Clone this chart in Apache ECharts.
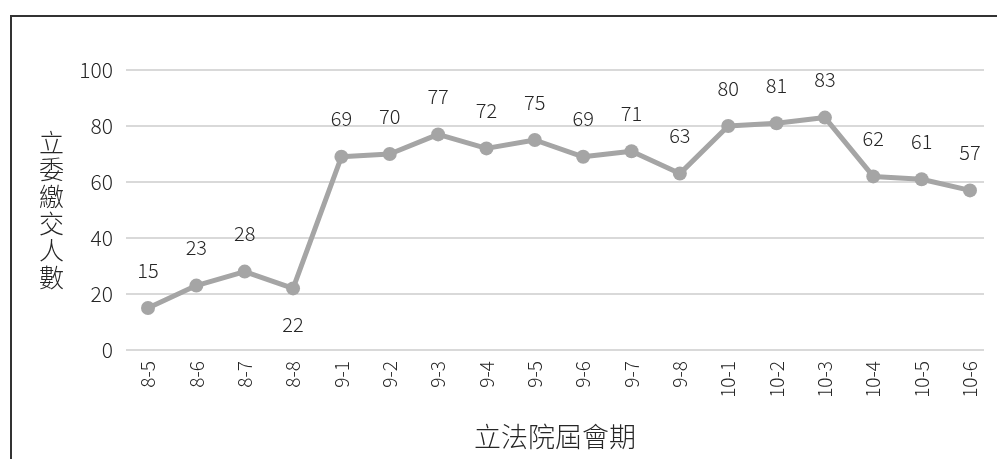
<!DOCTYPE html>
<html>
<head>
<meta charset="utf-8">
<script src="https://cdn.jsdelivr.net/npm/echarts@6/dist/echarts.min.js"></script>
<style>
	html, body { margin: 0; padding: 0; background: #fff; overflow: hidden; }
	#frame { position: absolute; left: 10px; top: 15px; width: 1100px; height: 600px; border: 2px solid #333; }
	#main { position: absolute; left: 0; top: 0; width: 997px; height: 459px; }
</style>
</head>
<body>
<div id="frame"></div>
<div id="main"></div>
<script>
var sessions = ['8-5', '8-6', '8-7', '8-8', '9-1', '9-2', '9-3', '9-4', '9-5', '9-6', '9-7', '9-8', '10-1', '10-2', '10-3', '10-4', '10-5', '10-6'];
var payers = [15, 23, 28, 22, 69, 70, 77, 72, 75, 69, 71, 63, 80, 81, 83, 62, 61, 57];
var labelsBelow = ['8-8'];
var yTicks = [0, 20, 40, 60, 80, 100];

var font = '"Noto Sans CJK TC", "Noto Sans", sans-serif';
var textColor = '#262626';

var myChart = echarts.init(document.getElementById('main'));

var seriesData = payers.map(function(v, i) {
	var item = { value: [i, v] };
	if (labelsBelow.indexOf(sessions[i]) >= 0) {
		item.label = { position: 'bottom', distance: 19 };
	}
	return item;
});

option = {
	animation: false,
	grid: {
		left: 126,
		right: 13,
		top: 70,
		bottom: 109,
		outerBoundsMode: 'none',
		containLabel: false
	},
	xAxis: {
		type: 'value',
		// first point sits ~22px inside the plot, last one ~14px
		min: -0.455,
		max: 17.29,
		splitLine: { show: false },
		axisLine: { show: false },
		axisTick: { show: false },
		axisLabel: {
			customValues: sessions.map(function(s, i) { return i; }),
			formatter: function(v) { return sessions[Math.round(v)]; },
			rotate: 90,
			margin: 11,
			fontSize: 19,
			fontFamily: font,
			fontWeight: 300,
			color: textColor
		},
		name: '立法院屆會期',
		nameLocation: 'middle',
		nameGap: 73,
		nameTextStyle: {
			fontSize: 27,
			fontFamily: font,
			fontWeight: 300,
			color: textColor
		}
	},
	yAxis: {
		type: 'value',
		min: yTicks[0],
		max: yTicks[yTicks.length - 1],
		interval: 20,
		axisLine: { show: false },
		axisTick: { show: false },
		splitLine: { lineStyle: { color: '#d9d9d9', width: 2 } },
		axisLabel: {
			margin: 13,
			fontSize: 21,
			fontFamily: font,
			fontWeight: 300,
			color: textColor
		},
		name: '立委繳交人數'.split('').join('\n'),
		nameLocation: 'middle',
		nameRotate: 0,
		nameGap: 62,
		nameTextStyle: {
			fontSize: 25,
			lineHeight: 27,
			fontFamily: font,
			fontWeight: 300,
			color: textColor
		}
	},
	series: [{
		type: 'line',
		data: seriesData,
		symbol: 'circle',
		symbolSize: 14,
		lineStyle: { color: '#a5a5a5', width: 5 },
		itemStyle: { color: '#a5a5a5' },
		label: {
			show: true,
			position: 'top',
			distance: 21,
			formatter: function(p) { return p.value[1]; },
			fontSize: 20,
			fontFamily: font,
			fontWeight: 300,
			color: textColor
		}
	}]
};

myChart.setOption(option);
</script>
</body>
</html>
